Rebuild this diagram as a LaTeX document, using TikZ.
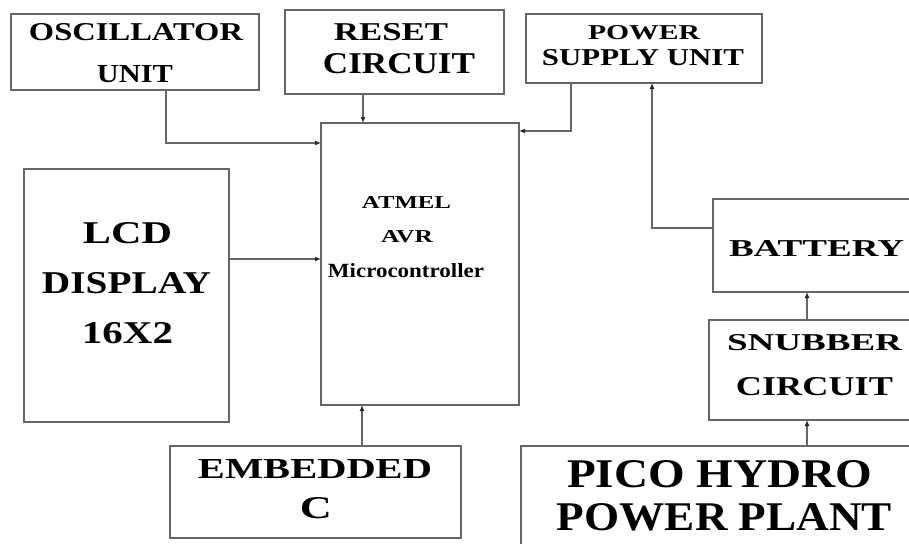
\documentclass[tikz,border=0pt]{standalone}
\usepackage{fontspec}
\setmainfont{Liberation Serif}
\usepackage{graphicx}
\usetikzlibrary{arrows.meta}
\newcommand\fitw[3]{\resizebox{#1pt}{#2pt}{\bfseries #3}}
\begin{document}
\begin{tikzpicture}[x=1pt,y=-1pt,
  box/.style={draw=black!60, line width=1.3pt, inner sep=0pt, outer sep=0pt},
  lbl/.style={anchor=base, inner sep=0pt, outer sep=0pt},
  arr/.style={draw=black!60, line width=1.2pt, -{Latex[length=6pt,width=5pt,color=black!85]}}]
\useasboundingbox (0,0) rectangle (909,543);
\clip (0,0) rectangle (909,543);
\fill[white] (0,0) rectangle (909,543);

% blocks
\node[box, minimum width=248pt, minimum height=76pt] (osc) at (135,52) {};
\node[box, minimum width=219pt, minimum height=84pt] (reset) at (394.5,52) {};
\node[box, minimum width=236pt, minimum height=69pt] (power) at (644,48.5) {};
\node[box, minimum width=198pt, minimum height=282pt] (mcu) at (420,264) {};
\node[box, minimum width=205pt, minimum height=253pt] (lcd) at (126.5,295.5) {};
\node[box, minimum width=207pt, minimum height=93pt] (battery) at (816.5,245.5) {};
\node[box, minimum width=211pt, minimum height=100pt] (snubber) at (814.5,370) {};
\node[box, minimum width=399pt, minimum height=114pt] (pico) at (720.5,503) {};
\node[box, minimum width=291pt, minimum height=92pt] (embedded) at (315.5,492) {};

% texts
\node[lbl] (osc-a) at (136,40) {\fitw{214}{17}{OSCILLATOR}};
\node[lbl] (osc-b) at (135,82) {\fitw{76}{17}{UNIT}};
\node[lbl] (rst-a) at (391,40) {\fitw{114}{17}{RESET}};
\node[lbl] (rst-b) at (399,74) {\fitw{152}{20}{CIRCUIT}};
\node[lbl] (psu-a) at (644,39) {\fitw{112}{14}{POWER}};
\node[lbl] (psu-b) at (643,66) {\fitw{202}{16}{SUPPLY UNIT}};
\node[lbl] (lcd-a) at (127.5,243) {\fitw{89}{21}{LCD}};
\node[lbl] (lcd-b) at (126.5,293) {\fitw{169}{21}{DISPLAY}};
\node[lbl] (lcd-c) at (127.5,343) {\fitw{91}{21}{16X2}};
\node[lbl] (mcu-a) at (406.5,208) {\fitw{89}{12}{ATMEL}};
\node[lbl] (mcu-b) at (407,242) {\fitw{52}{12}{AVR}};
\node[lbl] (mcu-c) at (406,277) {\fitw{156}{14}{Microcontroller}};
\node[lbl] (bat-a) at (816.5,256) {\fitw{175}{16}{BATTERY}};
\node[lbl] (snb-a) at (814.5,350) {\fitw{175}{16}{SNUBBER}};
\node[lbl] (snb-b) at (814.5,395) {\fitw{157}{18}{CIRCUIT}};
\node[lbl] (pico-a) at (719.5,487) {\fitw{305}{27}{PICO HYDRO}};
\node[lbl] (pico-b) at (724.5,530) {\fitw{335}{27}{POWER PLANT}};
\node[lbl] (emb-a) at (315,478) {\fitw{234}{19}{EMBEDDED}};
\node[lbl] (emb-b) at (316,518) {\fitw{32}{21}{C}};

% connectors
\draw[arr] (osc.south -| 166,0) |- (mcu.west |- 0,143);
\draw[arr] (reset.south -| 363,0) -- (mcu.north -| 363,0);
\draw[arr] (power.south -| 571,0) |- (mcu.east |- 0,131);
\draw[arr] (battery.west |- 0,228) -| (power.south -| 652,0);
\draw[arr] (snubber.north -| 807,0) -- (battery.south -| 807,0);
\draw[arr] (pico.north -| 807,0) -- (snubber.south -| 807,0);
\draw[arr] (lcd.east |- 0,259) -- (mcu.west |- 0,259);
\draw[arr] (embedded.north -| 362,0) -- (mcu.south -| 362,0);
\end{tikzpicture}
\end{document}
